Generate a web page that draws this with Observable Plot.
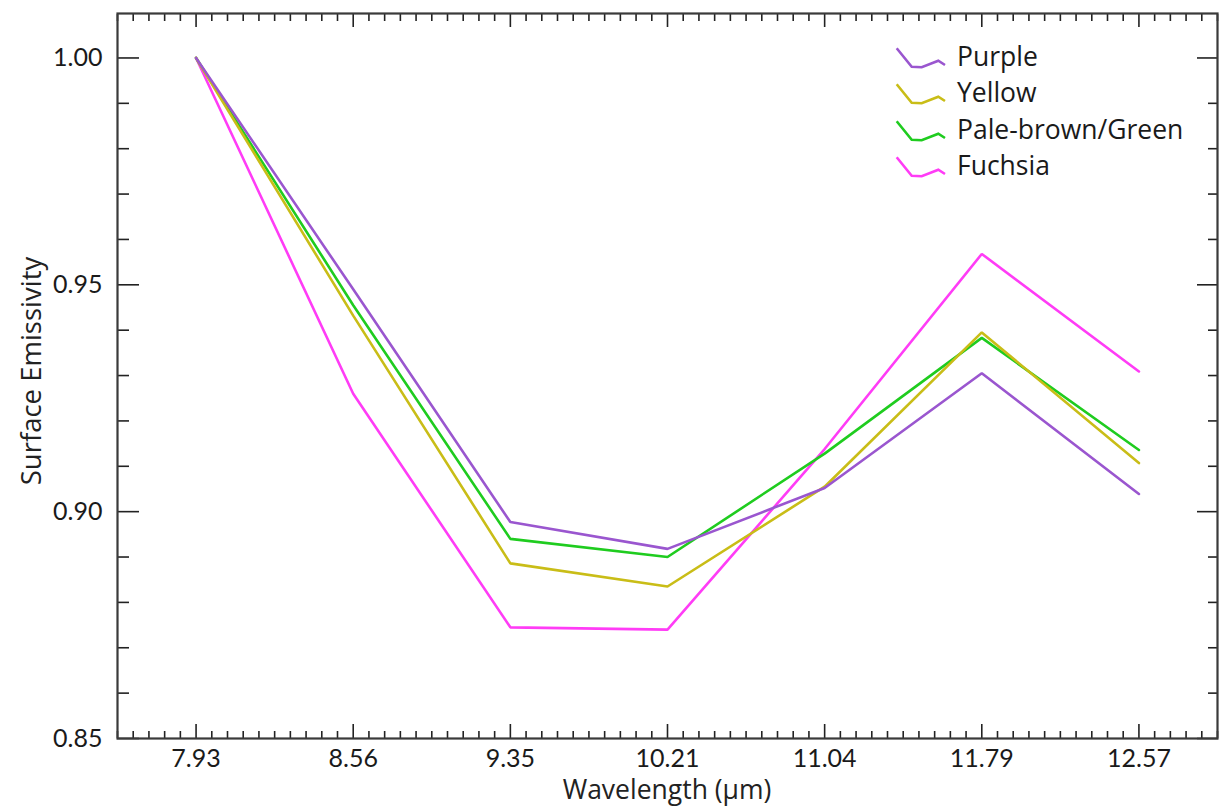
<!DOCTYPE html>
<html><head><meta charset="utf-8">
<script src="https://cdn.jsdelivr.net/npm/d3@7"></script>
<script src="https://cdn.jsdelivr.net/npm/@observablehq/plot@0.6"></script>
<style>
body{margin:0;background:#fff;}
#wrap{position:relative;width:1224px;height:808px;font-family:Lato,"Open Sans",sans-serif;color:#1a1a1a;}
#wrap > svg{position:absolute;left:0;top:0;}
.ylab{position:absolute;left:31px;top:371px;transform:translate(-50%,-50%) rotate(-90deg);font-family:"Open Sans",sans-serif;font-size:27.5px;line-height:1;white-space:nowrap;color:#222;}
.xlab{position:absolute;left:667px;top:790px;transform:translate(-50%,-50%);font-family:"Open Sans",sans-serif;font-size:26.5px;line-height:0.8;white-space:nowrap;color:#222;}
.lg-icon{position:absolute;}
.lg-text{position:absolute;font-family:"Open Sans",sans-serif;font-size:26.5px;line-height:1;white-space:nowrap;transform:translateY(-50%);color:#1a1a1a;}
</style></head>
<body><div id="wrap"></div>
<script>
// ---- data ----
const wavelengths = ["7.93","8.56","9.35","10.21","11.04","11.79","12.57"];
const seriesNames = ["Purple","Yellow","Pale-brown/Green","Fuchsia"];
const seriesColors = ["#9a56cf","#c9bd17","#1fcc1f","#ff3cf6"];
const purple  = [1.000, 0.9490, 0.8977, 0.8918, 0.9052, 0.9305, 0.9039];
const yellow  = [1.000, 0.9432, 0.8886, 0.8835, 0.9055, 0.9395, 0.9107];
const green   = [1.000, 0.9455, 0.8940, 0.8900, 0.9128, 0.9383, 0.9136];
const fuchsia = [1.000, 0.9260, 0.8745, 0.8740, 0.9138, 0.9568, 0.9309];
const yMajor = [0.85, 0.90, 0.95, 1.00];

const seriesValues = [purple, yellow, green, fuchsia];
// draw order: fuchsia first, purple on top
const drawOrder = [3, 2, 1, 0];
const rows = [];
for (const s of drawOrder) {
  seriesValues[s].forEach((v, i) => rows.push({series: seriesNames[s], i, v}));
}
const xMajor = d3.range(wavelengths.length);
const xMinor = d3.range(-5, 66).filter(k => k % 10 !== 0).map(k => k / 10);
const yMinor = d3.range(85, 101).filter(k => k % 5 !== 0).map(k => k / 100);

const tickStroke = "#222";
const chart = Plot.plot({
  width: 1224,
  height: 808,
  marginLeft: 117,
  marginRight: 7,
  marginTop: 13,
  marginBottom: 70,
  style: {fontFamily: "Lato, 'Open Sans', sans-serif", fontSize: "25px", color: "#1a1a1a", background: "transparent"},
  x: {type: "linear", domain: [-0.5, wavelengths.length - 0.5], axis: null},
  y: {domain: [0.85, 1.0098], axis: null},
  color: {domain: seriesNames, range: seriesColors},
  marks: [
    // left ticks (inward)
    Plot.axisY(yMajor, {anchor: "left", tickSize: -22, fill: "none", stroke: tickStroke, strokeWidth: 1.6, label: null}),
    Plot.axisY(yMinor, {anchor: "left", tickSize: -12, fill: "none", stroke: tickStroke, strokeWidth: 1.6, label: null}),
    // right ticks (inward)
    Plot.axisY(yMajor, {anchor: "right", tickSize: -21, fill: "none", stroke: tickStroke, strokeWidth: 1.6, label: null}),
    Plot.axisY(yMinor, {anchor: "right", tickSize: -10, fill: "none", stroke: tickStroke, strokeWidth: 1.6, label: null}),
    // y labels
    Plot.axisY(yMajor, {anchor: "left", tickSize: 0, tickPadding: 15, tickFormat: d3.format(".2f"), fontSize: 25, label: null}),
    // bottom ticks
    Plot.axisX(xMajor, {anchor: "bottom", tickSize: -14, fill: "none", stroke: tickStroke, strokeWidth: 1.6, label: null}),
    Plot.axisX(xMinor, {anchor: "bottom", tickSize: -7, fill: "none", stroke: tickStroke, strokeWidth: 1.6, label: null}),
    // top ticks
    Plot.axisX(xMajor, {anchor: "top", tickSize: -13, fill: "none", stroke: tickStroke, strokeWidth: 1.6, label: null}),
    Plot.axisX(xMinor, {anchor: "top", tickSize: -7, fill: "none", stroke: tickStroke, strokeWidth: 1.6, label: null}),
    // x labels
    Plot.axisX(xMajor, {anchor: "bottom", tickSize: 0, tickPadding: 11, tickFormat: i => wavelengths[i], fontSize: 25, label: null}),
    Plot.frame({stroke: "#3a3a3a", strokeWidth: 2.2}),
    Plot.line(rows, {x: "i", y: "v", z: "series", stroke: "series", strokeWidth: 2.6, strokeLinejoin: "miter"})
  ]
});

const wrap = document.getElementById("wrap");
wrap.appendChild(chart);

const ylab = document.createElement("div");
ylab.className = "ylab"; ylab.textContent = "Surface Emissivity";
wrap.appendChild(ylab);
const xlab = document.createElement("div");
xlab.className = "xlab"; xlab.textContent = "Wavelength (\u00b5m)";
wrap.appendChild(xlab);

// legend (inside plot, top right)
seriesNames.forEach((name, k) => {
  const top = 46 + k * 36.3;
  const ns = "http://www.w3.org/2000/svg";
  const svg = document.createElementNS(ns, "svg");
  svg.setAttribute("width", 54); svg.setAttribute("height", 26);
  svg.setAttribute("class", "lg-icon");
  svg.style.left = "895px"; svg.style.top = top + "px";
  const pl = document.createElementNS(ns, "polyline");
  pl.setAttribute("points", "1.7,2.3 16.7,20.7 26.7,21.3 43.3,14.7 50,19");
  pl.setAttribute("fill", "none");
  pl.setAttribute("stroke", seriesColors[k]);
  pl.setAttribute("stroke-width", 2.6);
  svg.appendChild(pl);
  wrap.appendChild(svg);
  const t = document.createElement("div");
  t.className = "lg-text"; t.textContent = name;
  t.style.left = "957px"; t.style.top = (56 + k * 36.3) + "px";
  wrap.appendChild(t);
});
</script>
</body></html>
